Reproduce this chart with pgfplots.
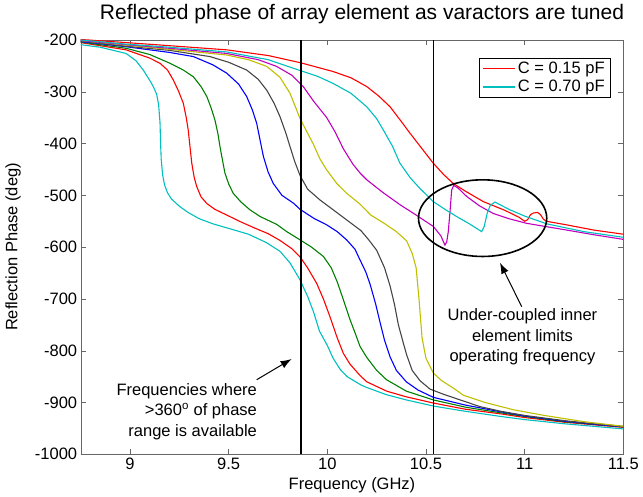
\documentclass[border=0pt]{standalone}
\usepackage{fontspec}
\setmainfont{Liberation Sans}
\usepackage{pgfplots}
\pgfplotsset{compat=1.18}
\usetikzlibrary{arrows.meta}

\definecolor{mcyan}{rgb}{0,0.75,0.75}
\definecolor{mred}{rgb}{1,0,0}
\definecolor{mgreen}{rgb}{0,0.5,0}
\definecolor{mblue}{rgb}{0,0,1}
\definecolor{mgray}{rgb}{0.27,0.27,0.27}
\definecolor{myellow}{rgb}{0.75,0.75,0}
\definecolor{mmagenta}{rgb}{0.75,0,0.75}

\begin{document}
\begin{tikzpicture}[font=\fontsize{16.5}{20.5}\selectfont]
\useasboundingbox (0,0) rectangle (643pt,497pt);
\begin{axis}[
  at={(80.7pt,42.7pt)}, anchor=south west,
  scale only axis, width=542.6pt, height=414.3pt,
  xmin=8.75, xmax=11.5, ymin=-1000, ymax=-200,
  xtick={9,9.5,10,10.5,11,11.5},
  xticklabels={9,9.5,10,10.5,11,11.5},
  ytick={-1000,-900,-800,-700,-600,-500,-400,-300,-200},
  yticklabels={-1000,-900,-800,-700,-600,-500,-400,-300,-200},
  tick align=inside, major tick length=5pt,
  axis line style={black!60}, every tick/.style={black!60},
  tick label style={font=\fontsize{16.5}{20.5}\selectfont},
  legend style={at={(0.977,0.956)}, anchor=north east, draw=black,
    font=\fontsize{16.5}{20.5}\selectfont, row sep=1pt,
    inner xsep=4pt, inner ysep=2pt},
  legend cell align=left,
  legend image code/.code={\draw[#1] (0pt,0pt) -- (32pt,0pt);},
  every axis plot/.append style={line width=1.1pt},
]
% C = 0.15 pF
\addplot[mred] coordinates {
(8.75,-199) (8.98,-205) (9.2,-211) (9.49,-219) (9.70,-230) (9.865,-244)
(10.03,-261) (10.12,-273) (10.2,-290) (10.26,-308) (10.318,-329) (10.37,-355)
(10.419,-380) (10.48,-410) (10.537,-438) (10.59,-460) (10.638,-477) (10.70,-492)
(10.79,-512) (10.90,-529) (10.97,-542) (11.0,-550) (11.015,-547) (11.03,-537)
(11.045,-534) (11.065,-533) (11.08,-537) (11.095,-546) (11.11,-550) (11.213,-557)
(11.35,-567) (11.5,-575)};
\addlegendentry{C = 0.15 pF}
% C = 0.70 pF
\addplot[mcyan] coordinates {
(8.75,-209) (8.85,-214) (8.98,-226) (9.03,-240) (9.067,-258) (9.10,-278)
(9.118,-290) (9.135,-305) (9.145,-325) (9.152,-360) (9.155,-400) (9.158,-430)
(9.165,-460) (9.175,-480) (9.19,-495) (9.21,-507) (9.25,-521) (9.29,-532)
(9.35,-545) (9.42,-555) (9.52,-566) (9.60,-575) (9.69,-591) (9.76,-608)
(9.81,-630) (9.86,-662) (9.90,-695) (9.93,-725) (9.96,-762) (10.0,-790)
(10.03,-815) (10.065,-836) (10.10,-850) (10.17,-866) (10.20,-871) (10.30,-885)
(10.40,-895) (10.54,-907) (10.70,-917) (10.88,-927) (11.0,-933) (11.2,-941)
(11.35,-946) (11.5,-951)};
\addlegendentry{C = 0.70 pF}
\addplot[mred] coordinates {
(8.75,-205) (8.98,-219) (9.10,-235) (9.152,-245) (9.19,-258) (9.219,-277)
(9.245,-298) (9.27,-322) (9.285,-350) (9.295,-374) (9.305,-410) (9.313,-438)
(9.325,-465) (9.338,-483) (9.36,-503) (9.39,-516) (9.43,-527) (9.49,-538)
(9.56,-551) (9.625,-562) (9.70,-574) (9.76,-587) (9.82,-603) (9.862,-619)
(9.90,-640) (9.946,-670) (9.98,-700) (10.013,-734) (10.05,-775) (10.081,-805)
(10.115,-826) (10.166,-848) (10.2,-860) (10.3,-878) (10.4,-889) (10.537,-901)
(10.7,-913) (10.88,-922) (11.0,-929) (11.2,-938) (11.35,-943) (11.5,-948)};
\addplot[mgreen] coordinates {
(8.75,-204) (8.98,-216) (9.10,-228) (9.203,-245) (9.27,-258) (9.321,-271)
(9.36,-290) (9.389,-309) (9.41,-330) (9.43,-354) (9.445,-380) (9.456,-406)
(9.47,-435) (9.481,-457) (9.50,-478) (9.523,-496) (9.56,-512) (9.608,-528)
(9.66,-541) (9.743,-556) (9.794,-570) (9.862,-586) (9.92,-600) (9.98,-618)
(10.02,-640) (10.05,-667) (10.08,-700) (10.115,-740) (10.14,-765) (10.166,-792)
(10.2,-813) (10.25,-838) (10.30,-856) (10.4,-878) (10.537,-895) (10.7,-909)
(10.88,-920) (11.0,-927) (11.2,-937) (11.35,-942) (11.5,-947)};
\addplot[mblue] coordinates {
(8.75,-203) (8.98,-213) (9.2,-224) (9.321,-232) (9.42,-248) (9.49,-264)
(9.55,-285) (9.591,-309) (9.62,-335) (9.642,-361) (9.66,-395) (9.676,-425)
(9.70,-455) (9.726,-477) (9.77,-500) (9.828,-515) (9.862,-527) (9.93,-544)
(9.997,-557) (10.05,-570) (10.098,-586) (10.14,-604) (10.166,-625) (10.195,-648)
(10.217,-672) (10.245,-710) (10.267,-745) (10.29,-780) (10.318,-812) (10.35,-838)
(10.40,-860) (10.46,-876) (10.537,-890) (10.7,-905) (10.88,-918) (11.0,-926)
(11.2,-936) (11.35,-942) (11.5,-947)};
\addplot[mgray] coordinates {
(8.75,-202) (8.98,-212) (9.2,-220) (9.405,-232) (9.50,-243) (9.591,-258)
(9.65,-276) (9.693,-297) (9.73,-322) (9.76,-348) (9.79,-380) (9.811,-406)
(9.835,-435) (9.862,-462) (9.90,-488) (9.963,-509) (10.03,-528) (10.10,-548)
(10.17,-568) (10.21,-586) (10.25,-606) (10.29,-640) (10.318,-675) (10.34,-710)
(10.36,-750) (10.385,-785) (10.402,-808) (10.43,-838) (10.47,-858) (10.52,-874)
(10.588,-884) (10.774,-908) (10.88,-917) (11.0,-925) (11.2,-935) (11.35,-941)
(11.5,-946)};
\addplot[myellow] coordinates {
(8.75,-201) (8.98,-210) (9.2,-218) (9.49,-229) (9.60,-238) (9.693,-251)
(9.76,-272) (9.811,-303) (9.862,-352) (9.90,-380) (9.929,-401) (9.963,-430)
(9.997,-451) (10.05,-478) (10.098,-496) (10.166,-517) (10.22,-538) (10.284,-553)
(10.35,-570) (10.402,-588) (10.43,-612) (10.45,-640) (10.465,-702) (10.48,-775)
(10.50,-815) (10.537,-843) (10.58,-858) (10.638,-872) (10.69,-886) (10.80,-900)
(10.943,-914) (11.1,-925) (11.3,-937) (11.5,-946)};
\addplot[mmagenta] coordinates {
(8.75,-201) (8.98,-209) (9.2,-216) (9.49,-226) (9.65,-238) (9.743,-251)
(9.82,-268) (9.878,-290) (9.93,-318) (9.997,-350) (10.04,-378) (10.081,-410)
(10.13,-440) (10.166,-457) (10.2,-470) (10.28,-494) (10.368,-518) (10.45,-538)
(10.537,-560) (10.575,-578) (10.596,-596) (10.605,-590) (10.613,-570) (10.622,-530)
(10.63,-490) (10.64,-481) (10.66,-485) (10.706,-502) (10.77,-520) (10.841,-535)
(10.92,-545) (11.01,-554) (11.213,-567) (11.35,-576) (11.5,-585)};
\addplot[mcyan] coordinates {
(8.75,-200) (8.98,-208) (9.2,-214) (9.49,-223) (9.70,-238) (9.862,-259)
(9.95,-270) (10.03,-284) (10.12,-303) (10.2,-329) (10.25,-352) (10.284,-374)
(10.33,-405) (10.368,-438) (10.42,-466) (10.47,-487) (10.537,-512) (10.60,-528)
(10.656,-541) (10.72,-555) (10.782,-570) (10.795,-560) (10.81,-535) (10.826,-519)
(10.85,-513) (10.88,-519) (10.926,-528) (11.0,-540) (11.112,-555) (11.3,-570)
(11.5,-581)};
% band limits
\addplot[black, line width=1.3pt, forget plot] coordinates {(9.867,-1000) (9.867,-200)};
\addplot[black, line width=1.3pt, forget plot] coordinates {(10.537,-1000) (10.537,-200)};
% annotations
\draw[line width=1.6pt] (axis cs:10.787,-544) ellipse [x radius=0.325, y radius=74];
\draw[line width=1pt, -{Latex[length=11pt,width=8pt]}] (axis cs:10.985,-715) -- (axis cs:10.875,-630);
\draw[line width=1pt, -{Latex[length=11pt,width=8pt]}] (axis cs:9.642,-856) -- (axis cs:9.819,-816);
\node[align=right, anchor=east, inner sep=0pt] at (axis cs:9.644,-917.6)
  {Frequencies where\\>360\textsuperscript{o} of phase\\range is available};
\node[align=center, inner sep=0pt] at (axis cs:10.989,-773)
  {Under-coupled inner\\element limits\\operating frequency};
\end{axis}
\node[font=\fontsize{21}{25}\selectfont] at (362pt,483pt)
  {Reflected phase of array element as varactors are tuned};
\node at (352pt,12pt) {Frequency (GHz)};
\node[rotate=90] at (13pt,250pt) {Reflection Phase (deg)};
\end{tikzpicture}
\end{document}
